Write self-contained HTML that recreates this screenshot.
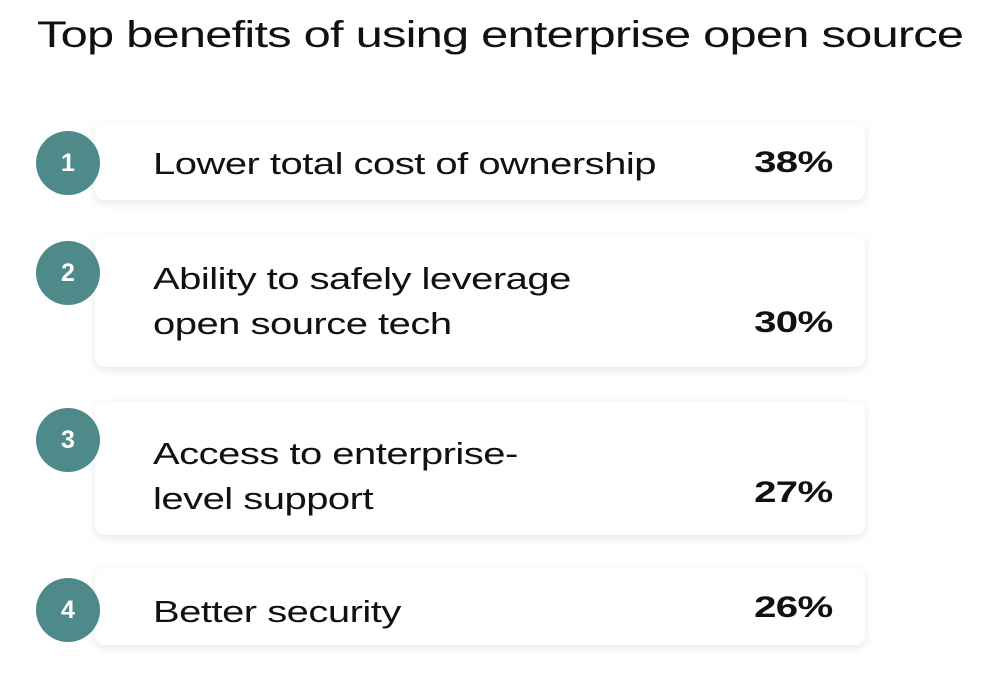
<!DOCTYPE html>
<html><head><style>
body{margin:0;width:1000px;height:686px;background:#fff;font-family:"Liberation Sans",sans-serif;position:relative;overflow:hidden;color:#111}
.t{position:absolute;left:37px;top:14px;font-size:37px;letter-spacing:-0.6px;white-space:nowrap;transform:scaleX(1.32);transform-origin:left top}
.card{position:absolute;left:95px;width:770px;background:#fff;border-radius:10px;box-shadow:0 3px 10px rgba(0,0,0,0.10)}
.c{position:absolute;left:36px;width:64px;height:64px;border-radius:50%;background:#4f8a8b;color:#fff;font-weight:bold;font-size:25px;text-align:center;line-height:64px}
.l{position:absolute;left:153px;font-size:31px;line-height:45px;letter-spacing:-0.4px;white-space:nowrap;transform:scaleX(1.29);transform-origin:left top}
.p{position:absolute;right:167px;font-size:30px;font-weight:bold;letter-spacing:-0.5px;transform:scaleX(1.34);transform-origin:right top}
</style></head><body>
<div class="t">Top benefits of using enterprise open source</div>
<div class="card" style="top:123px;height:77px"></div>
<div class="card" style="top:235px;height:132px"></div>
<div class="card" style="top:402px;height:133px"></div>
<div class="card" style="top:568px;height:77px"></div>
<div class="c" style="top:131px">1</div>
<div class="c" style="top:241px">2</div>
<div class="c" style="top:408px">3</div>
<div class="c" style="top:578px">4</div>
<div class="l" style="top:141px">Lower total cost of ownership</div>
<div class="l" style="top:256px">Ability to safely leverage<br>open source tech</div>
<div class="l" style="top:431px">Access to enterprise-<br>level support</div>
<div class="l" style="top:589px">Better security</div>
<div class="p" style="top:146px">38%</div>
<div class="p" style="top:306px">30%</div>
<div class="p" style="top:476px">27%</div>
<div class="p" style="top:591px">26%</div>
</body></html>
